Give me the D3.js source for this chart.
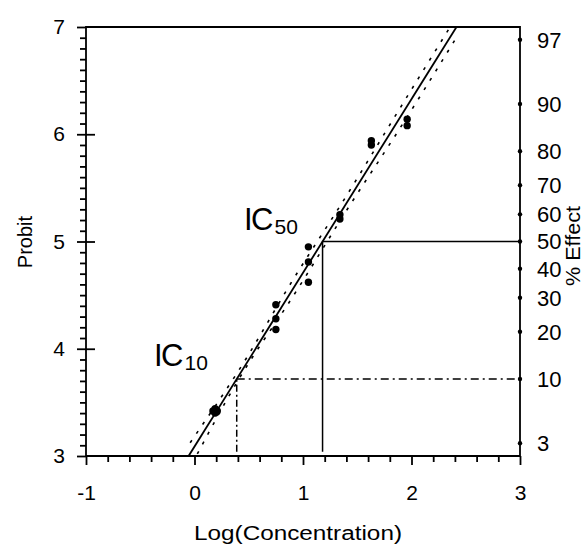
<!DOCTYPE html>
<html>
<head>
<meta charset="utf-8">
<script src="https://cdn.jsdelivr.net/npm/d3@7"></script>
<style>
  html, body { margin: 0; padding: 0; background: #fff; }
  svg { display: block; font-family: "Liberation Sans", Arial, sans-serif; }
</style>
</head>
<body>
<svg id="chart" width="585" height="546"></svg>
<script>
// Observed responses: log10 concentration vs probit
const logConc = [0.17, 0.21, 0.19, 0.19, 0.75, 0.75, 0.75, 1.05, 1.05, 1.05, 1.34, 1.34, 1.63, 1.63, 1.96, 1.96];
const probit  = [3.42, 3.42, 3.40, 3.44, 4.41, 4.28, 4.18, 4.95, 4.81, 4.62, 5.25, 5.21, 5.94, 5.90, 6.14, 6.08];

// Fitted probit line: probit = intercept + slope * logConc
const fitSlope = 1.62;
const fitIntercept = 3.088;

// Confidence limits of the fit (upper/left and lower/right)
const upperBandX = [-0.04, 0.40, 0.935, 1.357, 1.888, 2.371];
const upperBandY = [3.124, 3.786, 4.688, 5.356, 6.233, 7.025];
const lowerBandX = [0.026, 0.45, 0.896, 1.433, 1.864, 2.41];
const lowerBandY = [3.019, 3.786, 4.47, 5.34, 6.009, 6.895];

// Axis ticks
const xMajorTicks = [-1, 0, 1, 2, 3];
const yMajorTicks = [3, 4, 5, 6, 7];
const effectTicks = [3, 10, 20, 30, 40, 50, 60, 70, 80, 90, 97];

// Inverse standard normal CDF (Acklam's rational approximation)
function invNorm(p) {
  const a = [-3.969683028665376e+01, 2.209460984245205e+02, -2.759285104469687e+02, 1.383577518672690e+02, -3.066479806614716e+01, 2.506628277459239e+00];
  const b = [-5.447609879822406e+01, 1.615858368580409e+02, -1.556989798598866e+02, 6.680131188771972e+01, -1.328068155288572e+01];
  const c = [-7.784894002430293e-03, -3.223964580411365e-01, -2.400758277161838e+00, -2.549671010229425e+00, 4.374664141464968e+00, 2.938163982698783e+00];
  const d = [7.784695709041462e-03, 3.224671290700398e-01, 2.445134137142996e+00, 3.754408661907416e+00];
  const pl = 0.02425, ph = 1 - pl;
  let q, r;
  if (p < pl) {
    q = Math.sqrt(-2 * Math.log(p));
    return (((((c[0]*q+c[1])*q+c[2])*q+c[3])*q+c[4])*q+c[5]) / ((((d[0]*q+d[1])*q+d[2])*q+d[3])*q+1);
  } else if (p <= ph) {
    q = p - 0.5; r = q * q;
    return (((((a[0]*r+a[1])*r+a[2])*r+a[3])*r+a[4])*r+a[5])*q / (((((b[0]*r+b[1])*r+b[2])*r+b[3])*r+b[4])*r+1);
  } else {
    q = Math.sqrt(-2 * Math.log(1 - p));
    return -(((((c[0]*q+c[1])*q+c[2])*q+c[3])*q+c[4])*q+c[5]) / ((((d[0]*q+d[1])*q+d[2])*q+d[3])*q+1);
  }
}
const pctToProbit = pct => 5 + invNorm(pct / 100);
const probitToLog = pr => (pr - fitIntercept) / fitSlope;

const svg = d3.select("#chart");
const plotLeft = 86, plotRight = 520, plotTop = 27, plotBottom = 456;

const x = d3.scaleLinear().domain([-1, 3]).range([plotLeft, plotRight]);
const y = d3.scaleLinear().domain([3, 7]).range([plotBottom, plotTop]);

const AXW = 1.8;
const plainNum = d => String(d);

// Minor ticks
const xMinor = d3.range(-1, 3.001, 0.2).filter(v => Math.abs(v - Math.round(v)) > 1e-6);
const yMinor = d3.range(3, 7.001, 0.1).filter(v => Math.abs(v - Math.round(v)) > 1e-6);

function styleAxis(size) {
  return g => {
    g.select(".domain").remove();
    g.selectAll(".tick line").attr("stroke", "#000").attr("stroke-width", AXW);
    g.selectAll("text").attr("fill", "#000").attr("font-size", size)
      .attr("font-family", "'Liberation Sans', Arial, sans-serif");
  };
}

svg.append("g").attr("transform", `translate(0,${plotBottom})`)
  .call(d3.axisBottom(x).tickValues(xMinor).tickSize(6).tickFormat(""))
  .call(styleAxis(21));
svg.append("g").attr("transform", `translate(0,${plotBottom})`)
  .call(d3.axisBottom(x).tickValues(xMajorTicks).tickSize(9).tickPadding(20).tickFormat(plainNum))
  .call(styleAxis(21));

svg.append("g").attr("transform", `translate(${plotLeft},0)`)
  .call(d3.axisLeft(y).tickValues(yMinor).tickSize(6).tickFormat(""))
  .call(styleAxis(21));
svg.append("g").attr("transform", `translate(${plotLeft},0)`)
  .call(d3.axisLeft(y).tickValues(yMajorTicks).tickSize(9).tickPadding(12).tickFormat(plainNum))
  .call(styleAxis(21));
// inward half of the major probit ticks
svg.append("g").attr("transform", `translate(${plotLeft},0)`)
  .call(d3.axisRight(y).tickValues(yMajorTicks.slice(1, 4)).tickSize(9).tickFormat(""))
  .call(styleAxis(21));

// Frame
svg.append("path")
  .attr("d", `M${plotLeft},${plotBottom}H${plotRight}V${plotTop}H${plotLeft}Z`)
  .attr("fill", "none").attr("stroke", "#000").attr("stroke-width", AXW)
  .attr("stroke-linejoin", "miter");

// Right % Effect axis: dot markers and labels
const eff = svg.append("g");
eff.selectAll("circle").data(effectTicks).join("circle")
  .attr("cx", plotRight).attr("cy", d => y(pctToProbit(d))).attr("r", 2.2).attr("fill", "#000");
eff.selectAll("text").data(effectTicks).join("text")
  .attr("x", plotRight + 17).attr("y", d => y(pctToProbit(d))).attr("dy", "0.36em")
  .attr("font-size", 22).attr("fill", "#000").text(d => d);

// Confidence limits
const bandLine = d3.line().x(d => x(d[0])).y(d => y(d[1])).curve(d3.curveMonotoneY);
[[upperBandX, upperBandY], [lowerBandX, lowerBandY]].forEach(([bx, by]) => {
  svg.append("path")
    .attr("d", bandLine(bx.map((v, i) => [v, by[i]])))
    .attr("fill", "none").attr("stroke", "#000").attr("stroke-width", 1.6)
    .attr("stroke-dasharray", "3,8");
});

// Fitted line
svg.append("line")
  .attr("x1", x(probitToLog(3))).attr("y1", y(3))
  .attr("x2", x(probitToLog(7))).attr("y2", y(7))
  .attr("stroke", "#000").attr("stroke-width", 1.8);

// IC50 guides
const ic50 = probitToLog(5);
const lowEnd = 3.04;
svg.append("path")
  .attr("d", `M${x(ic50)},${y(lowEnd)}V${y(5)}H${plotRight}`)
  .attr("fill", "none").attr("stroke", "#000").attr("stroke-width", 1.5);

// IC10 guides
const p10 = pctToProbit(10);
const ic10 = probitToLog(p10);
svg.append("path")
  .attr("d", `M${x(ic10)},${y(lowEnd)}V${y(p10)}`)
  .attr("fill", "none").attr("stroke", "#000").attr("stroke-width", 1.5)
  .attr("stroke-dasharray", "7,3,2,3");
svg.append("path")
  .attr("d", `M${x(ic10)},${y(p10)}H${plotRight}`)
  .attr("fill", "none").attr("stroke", "#000").attr("stroke-width", 1.5)
  .attr("stroke-dasharray", "8,4,2,4");

// Observations
svg.append("g").selectAll("circle").data(logConc.map((v, i) => [v, probit[i]])).join("circle")
  .attr("cx", d => x(d[0])).attr("cy", d => y(d[1])).attr("r", 3.7).attr("fill", "#000");

// IC annotations
function icLabel(px, py, sub) {
  const t = svg.append("text").attr("x", px).attr("y", py).attr("fill", "#000")
    .attr("font-size", 31).attr("letter-spacing", "-1.5");
  t.append("tspan").text("IC");
  t.append("tspan").attr("font-size", 21).attr("dy", 4).attr("dx", 2.5).attr("letter-spacing", "0").text(sub);
}
icLabel(244, 230, "50");
icLabel(154, 366, "10");

// Axis titles
svg.append("text").attr("x", 298).attr("y", 540)
  .attr("text-anchor", "middle").attr("font-size", 20).attr("fill", "#000")
  .attr("textLength", 208).attr("lengthAdjust", "spacingAndGlyphs")
  .text("Log(Concentration)");
svg.append("text").attr("transform", "translate(32,242) rotate(-90)")
  .attr("text-anchor", "middle").attr("font-size", 20).attr("fill", "#000")
  .text("Probit");
svg.append("text").attr("transform", "translate(580,246) rotate(-90)")
  .attr("text-anchor", "middle").attr("font-size", 20).attr("fill", "#000")
  .attr("textLength", 80).attr("lengthAdjust", "spacingAndGlyphs")
  .text("% Effect");
</script>
</body>
</html>
